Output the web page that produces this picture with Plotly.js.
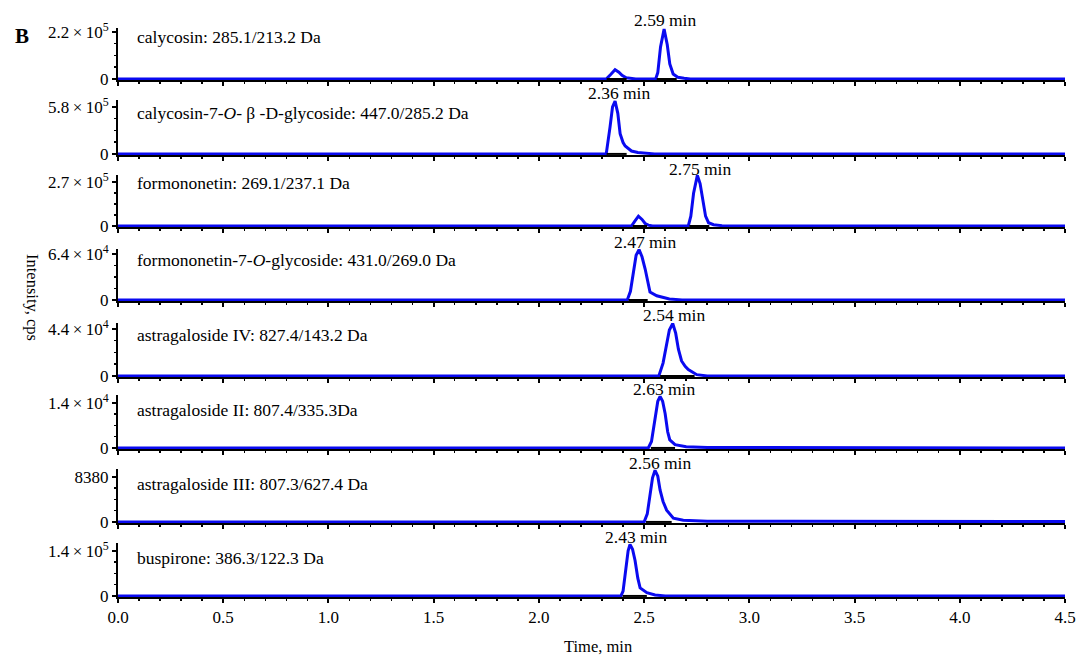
<!DOCTYPE html>
<html><head><meta charset="utf-8">
<script src="https://cdn.plot.ly/plotly-3.0.1.min.js"></script>
<style>body{margin:0;background:#fff}#chart{width:1083px;height:657px}</style>
</head><body><div id="chart"></div>
<script>
// ---------- data ----------
const compounds = [
  'calycosin: 285.1/213.2 Da',
  'calycosin-7-<i>O</i>- β -D-glycoside: 447.0/285.2 Da',
  'formononetin: 269.1/237.1 Da',
  'formononetin-7-<i>O</i>-glycoside: 431.0/269.0 Da',
  'astragaloside IV: 827.4/143.2 Da',
  'astragaloside II: 807.4/335.3Da',
  'astragaloside III: 807.3/627.4 Da',
  'buspirone: 386.3/122.3 Da'
];
const yTickMax = [2.2e5, 5.8e5, 2.7e5, 6.4e4, 4.4e4, 1.4e4, 8380, 1.4e5];
const yTickText = ['2.2\u2009×\u200910<sup>5</sup>', '5.8\u2009×\u200910<sup>5</sup>', '2.7\u2009×\u200910<sup>5</sup>',
  '6.4\u2009×\u200910<sup>4</sup>', '4.4\u2009×\u200910<sup>4</sup>', '1.4\u2009×\u200910<sup>4</sup>', '8380',
  '1.4\u2009×\u200910<sup>5</sup>'];
const peakLabels = ['2.59 min', '2.36 min', '2.75 min', '2.47 min', '2.54 min', '2.63 min', '2.56 min', '2.43 min'];
const xTickVals = [0, 0.5, 1.0, 1.5, 2.0, 2.5, 3.0, 3.5, 4.0, 4.5];
const xTickText = ['0.0', '0.5', '1.0', '1.5', '2.0', '2.5', '3.0', '3.5', '4.0', '4.5'];

const t1 = [0, 2.30, 2.32, 2.34, 2.362, 2.38, 2.395, 2.415, 2.44, 2.46, 2.555, 2.565, 2.578, 2.595, 2.61, 2.622, 2.638, 2.66, 2.69, 2.72, 4.5];
const i1 = [0, 0, 0, 2.0e4, 4.3e4, 3.2e4, 1.7e4, 6e3, 2e3, 0, 0, 3e4, 1.5e5, 2.33e5, 1.6e5, 7e4, 2.3e4, 8e3, 3e3, 0, 0];
const t2 = [0, 2.32, 2.338, 2.35, 2.362, 2.375, 2.386, 2.40, 2.41, 2.44, 2.47, 2.50, 2.55, 4.5];
const i2 = [0, 0, 3.3e5, 5.8e5, 6.5e5, 5.0e5, 2.5e5, 1.4e5, 9.7e4, 3.6e4, 1.8e4, 8e3, 0, 0];
const t3 = [0, 2.44, 2.456, 2.473, 2.49, 2.505, 2.52, 2.54, 2.71, 2.722, 2.735, 2.753, 2.766, 2.779, 2.792, 2.806, 2.83, 2.87, 2.9, 4.5];
const i3 = [0, 0, 3e4, 6e4, 4e4, 1.5e4, 5e3, 0, 0, 6e4, 2.0e5, 3.1e5, 2.6e5, 1.6e5, 6e4, 2e4, 8e3, 2e3, 0, 0];
const t4 = [0, 2.42, 2.435, 2.449, 2.462, 2.476, 2.49, 2.505, 2.518, 2.528, 2.56, 2.62, 2.68, 4.5];
const i4 = [0, 0, 1.2e4, 3.8e4, 6.2e4, 7.0e4, 6.0e4, 4.3e4, 2.2e4, 1.1e4, 5.8e3, 1.5e3, 0, 0];
const t5 = [0, 2.57, 2.59, 2.607, 2.62, 2.636, 2.65, 2.663, 2.678, 2.695, 2.71, 2.75, 2.80, 4.5];
const i5 = [0, 0, 1.2e4, 3.0e4, 4.3e4, 4.9e4, 4.0e4, 2.5e4, 1.4e4, 9e3, 6e3, 1.2e3, 0, 0];
const t6 = [0, 2.52, 2.535, 2.552, 2.565, 2.576, 2.588, 2.60, 2.612, 2.622, 2.647, 2.70, 2.8, 3.0, 3.3, 3.6, 3.7, 4.5];
const i6 = [0, 0, 2e3, 9.6e3, 1.45e4, 1.6e4, 1.45e4, 1.06e4, 5e3, 2.5e3, 1e3, 350, 150, 120, 110, 80, 0, 0];
const t7 = [0, 2.50, 2.515, 2.528, 2.54, 2.552, 2.565, 2.576, 2.59, 2.607, 2.639, 2.686, 2.8, 3.2, 3.6, 4.0, 4.5];
const i7 = [0, 0, 1.5e3, 4.7e3, 8.2e3, 9.6e3, 8.5e3, 5.9e3, 3.8e3, 2.2e3, 700, 300, 150, 120, 100, 80, 60];
const t8 = [0, 2.39, 2.40, 2.414, 2.424, 2.433, 2.445, 2.457, 2.47, 2.481, 2.513, 2.552, 2.6, 4.5];
const i8 = [0, 0, 1.5e4, 9.1e4, 1.4e5, 1.6e5, 1.45e5, 1.1e5, 5.5e4, 2.5e4, 1e4, 3e3, 0, 0];

// integration baselines (start, end times)
const base1 = [[2.322, 2.417], [2.56, 2.655]];
const base2 = [[2.322, 2.417]];
const base3 = [[2.446, 2.514], [2.715, 2.81]];
const base4 = [[2.426, 2.517]];
const base5 = [[2.576, 2.74]];
const base6 = [[2.532, 2.647]];
const base7 = [[2.509, 2.631]];
const base8 = [[2.398, 2.513]];

const times = [t1, t2, t3, t4, t5, t6, t7, t8];
const ints = [i1, i2, i3, i4, i5, i6, i7, i8];
const bases = [base1, base2, base3, base4, base5, base6, base7, base8];

// ---------- layout geometry (pixels) ----------
const W = 1083, H = 657;
const M = {l: 118, r: 18, t: 28, b: 60};
const plotH = H - M.t - M.b, plotW = W - M.l - M.r;
const panelTop = [28, 100, 175, 249, 323, 395, 469, 543];
const panelBot = [80, 155, 227, 301, 377, 449, 523, 597];
const tickPix = [32, 107, 182, 254, 329, 403, 477, 551];
const labelPix = [37, 113, 183, 260, 335, 410, 484, 558];
const peakLabelX = [2.60, 2.38, 2.765, 2.505, 2.643, 2.593, 2.574, 2.46];
const peakLabelPix = [20, 93, 169, 242, 315, 389, 463, 537];
const py = p => (H - M.b - p) / plotH;
const px = p => (p - M.l) / plotW;

const FONT = 'Liberation Serif, Times New Roman, serif';
const traces = [];
const layout = {
  width: W, height: H, margin: M, showlegend: false,
  paper_bgcolor: '#fff', plot_bgcolor: '#fff',
  font: {family: FONT, size: 17, color: '#000'},
  annotations: []
};

for (let k = 0; k < 8; k++) {
  const n = k + 1, sfx = n === 1 ? '' : String(n);
  const R = yTickMax[k] * (panelBot[k] - panelTop[k]) / (panelBot[k] - tickPix[k]);
  traces.push({x: times[k], y: ints[k], xaxis: 'x' + sfx, yaxis: 'y' + sfx, type: 'scatter', mode: 'lines',
    line: {color: '#0a0af0', width: 3}, hoverinfo: 'skip'});
  bases[k].forEach(b => traces.push({x: b, y: [0, 0], xaxis: 'x' + sfx, yaxis: 'y' + sfx, type: 'scatter',
    mode: 'lines', line: {color: '#000', width: 2}, hoverinfo: 'skip'}));
  layout['xaxis' + sfx] = {
    domain: [0, 1], anchor: 'y' + sfx, range: [0, 4.5], showgrid: false, zeroline: false,
    showline: true, linecolor: '#000', linewidth: 2, layer: 'below traces',
    tickmode: 'array', tickvals: xTickVals, ticktext: xTickText,
    ticks: 'outside', ticklen: 4, tickwidth: 2, tickcolor: '#000',
    minor: {ticks: 'outside', ticklen: 2, tickwidth: 1.5, tickcolor: '#000', tickmode: 'linear', tick0: 0, dtick: 0.1},
    showticklabels: k === 7, tickfont: {family: FONT, size: 17, color: '#000'}
  };
  layout['yaxis' + sfx] = {
    domain: [py(panelBot[k]), py(panelTop[k])], anchor: 'x' + sfx, range: [-0.02 * R, R],
    showgrid: false, zeroline: false, showline: true, linecolor: '#000', linewidth: 2, layer: 'below traces',
    tickmode: 'array', tickvals: [0, yTickMax[k]], ticktext: ['0', yTickText[k]],
    ticks: 'outside', ticklen: 4, tickwidth: 2, tickcolor: '#000',
    minor: {ticks: 'outside', ticklen: 2, tickwidth: 1.5, tickcolor: '#000', tickmode: 'linear', tick0: 0, dtick: yTickMax[k] / 4},
    tickfont: {family: FONT, size: 17, color: '#000'}
  };
  layout.annotations.push({xref: 'paper', yref: 'paper', x: px(135), y: py(labelPix[k]), xanchor: 'left', yanchor: 'middle',
    text: compounds[k], showarrow: false, font: {family: FONT, size: 17.5, color: '#000'}});
  layout.annotations.push({xref: 'x' + sfx, yref: 'paper', x: peakLabelX[k], y: py(peakLabelPix[k]), xanchor: 'center', yanchor: 'middle',
    text: peakLabels[k], showarrow: false, font: {family: FONT, size: 17.5, color: '#000'}});
}
layout.annotations.push({xref: 'paper', yref: 'paper', x: px(33), y: py(297), xanchor: 'center', yanchor: 'middle',
  text: 'Intensity, cps', textangle: 90, showarrow: false, font: {family: FONT, size: 16.5, color: '#000'}});
layout.annotations.push({xref: 'paper', yref: 'paper', x: px(598), y: py(646), xanchor: 'center', yanchor: 'middle',
  text: 'Time, min', showarrow: false, font: {family: FONT, size: 16.5, color: '#000'}});
layout.annotations.push({xref: 'paper', yref: 'paper', x: px(22), y: py(36), xanchor: 'center', yanchor: 'middle',
  text: '<b>B</b>', showarrow: false, font: {family: FONT, size: 21, color: '#000'}});

Plotly.newPlot('chart', traces, layout, {staticPlot: true, displayModeBar: false});
</script>
</body></html>
